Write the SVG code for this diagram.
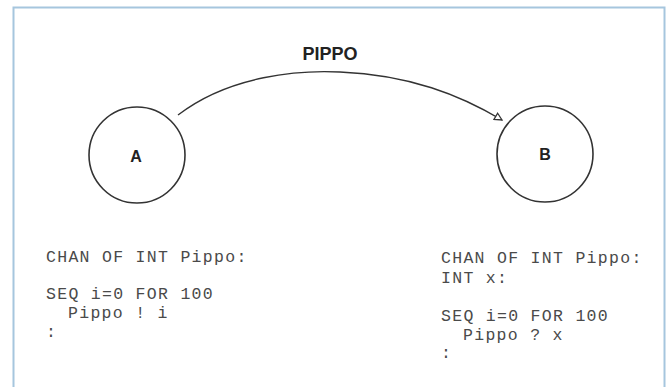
<svg xmlns="http://www.w3.org/2000/svg" width="667" height="387" viewBox="0 0 667 387">
  <defs>
    <style>
      .node { fill: none; stroke: #333; stroke-width: 1.6; }
      .lbl { font-family: "Liberation Sans", Arial, sans-serif; font-weight: bold; fill: #222; text-anchor: middle; }
      .code { font-family: "Liberation Mono", "Courier New", monospace; font-size: 16.5px; letter-spacing: 1.3px; fill: #4a4a4a; }
      .conn { fill: none; stroke: #333; stroke-width: 1.4; }
    </style>
    <marker id="arr" viewBox="0 0 10 10" refX="9" refY="5" markerWidth="9" markerHeight="9" markerUnits="userSpaceOnUse" orient="auto">
      <path d="M1,1 L9,5 L1,9 Z" fill="#fff" stroke="#333" stroke-width="1.4"/>
    </marker>
  </defs>
  <rect x="0" y="0" width="667" height="387" fill="#fff"/>
  <rect x="13.5" y="7.5" width="651" height="400" fill="none" stroke="#a6c6de" stroke-width="2"/>

  <g id="connectors">
    <path class="conn" d="M178,115 C230,75 300,70 340,72 C410,75 460,95 502,120" marker-end="url(#arr)"/>
    <text class="lbl" x="330" y="60" font-size="18">PIPPO</text>
  </g>

  <g id="nodeA">
    <circle class="node" cx="137" cy="155" r="48"/>
    <text class="lbl" x="136" y="162" font-size="16">A</text>
  </g>

  <g id="nodeB">
    <circle class="node" cx="545" cy="154" r="48"/>
    <text class="lbl" x="545" y="160" font-size="16">B</text>
  </g>

  <g id="codeA">
    <text class="code" x="46" y="262">CHAN OF INT Pippo:</text>
    <text class="code" x="46" y="299">SEQ i=0 FOR 100</text>
    <text class="code" x="68" y="318">Pippo ! i</text>
    <text class="code" x="46" y="337">:</text>
  </g>

  <g id="codeB">
    <text class="code" x="441" y="263">CHAN OF INT Pippo:</text>
    <text class="code" x="441" y="283">INT x:</text>
    <text class="code" x="441" y="321">SEQ i=0 FOR 100</text>
    <text class="code" x="463" y="340">Pippo ? x</text>
    <text class="code" x="441" y="358">:</text>
  </g>
</svg>
